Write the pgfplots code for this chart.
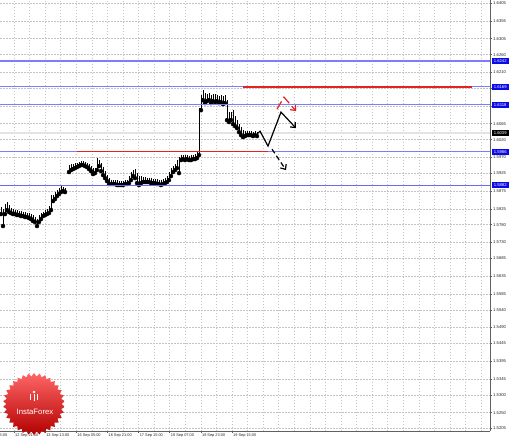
\documentclass[border=0pt]{standalone}
\usepackage{pgfplots}
\pgfplotsset{compat=1.18}
\usepackage{pgfplotstable}
\usepackage{fontspec}
\setmainfont{Liberation Sans}
\usetikzlibrary{shapes.geometric,arrows.meta}

\definecolor{lvl}{HTML}{7C7CFF}
\definecolor{lvldark}{HTML}{6A6AF0}
\definecolor{lvlred}{HTML}{E42222}
\definecolor{boxblue}{HTML}{0A0AE8}
\definecolor{gridc}{HTML}{C4C4C4}
\definecolor{framec}{HTML}{606060}

\tikzset{pricebox/.style={text=white, font=\fontsize{4.2}{4.2}\selectfont, anchor=west,
        inner sep=0pt, minimum height=6bp, minimum width=17bp, xshift=1.5bp}}

% hourly bars: x (chart position), low, high
\pgfplotstableread{
x lo hi
1 1.58100 1.58298
3 1.57762 1.58241
5 1.58100 1.58382
7 1.58213 1.58439
9 1.58157 1.58354
11 1.58128 1.58269
13 1.58100 1.58241
15 1.58100 1.58213
17 1.58072 1.58213
19 1.58072 1.58185
21 1.58044 1.58185
23 1.58044 1.58157
25 1.58016 1.58157
27 1.58016 1.58128
29 1.57987 1.58128
31 1.57959 1.58100
33 1.57903 1.58072
35 1.57875 1.58016
37 1.57762 1.57959
39 1.57875 1.58072
41 1.57959 1.58128
43 1.58044 1.58157
45 1.58072 1.58213
47 1.58100 1.58241
49 1.58128 1.58326
51 1.58213 1.58636
53 1.58467 1.58636
55 1.58523 1.58721
57 1.58608 1.58777
59 1.58664 1.58834
61 1.58721 1.58890
63 1.58749 1.58862
65 1.58721 1.58834
69 1.59285 1.59482
71 1.59341 1.59510
73 1.59369 1.59510
75 1.59397 1.59538
77 1.59426 1.59538
79 1.59454 1.59567
81 1.59482 1.59595
83 1.59482 1.59595
85 1.59454 1.59567
87 1.59426 1.59538
89 1.59369 1.59510
91 1.59313 1.59454
93 1.59228 1.59397
95 1.59256 1.59397
97 1.59341 1.59679
99 1.59454 1.59623
101 1.59313 1.59538
103 1.59200 1.59426
105 1.59115 1.59313
107 1.59031 1.59200
109 1.58946 1.59115
111 1.58946 1.59059
113 1.58946 1.59059
115 1.58946 1.59059
117 1.58918 1.59059
119 1.58918 1.59031
121 1.58918 1.59031
123 1.58918 1.59031
125 1.58946 1.59059
127 1.58946 1.59059
129 1.58974 1.59172
131 1.59059 1.59285
133 1.59172 1.59341
135 1.59115 1.59369
137 1.58974 1.59256
139 1.58918 1.59172
141 1.58974 1.59172
143 1.59003 1.59144
145 1.59003 1.59144
147 1.59003 1.59115
149 1.59003 1.59115
151 1.58974 1.59115
153 1.58974 1.59087
155 1.58974 1.59087
157 1.58946 1.59087
159 1.58946 1.59059
161 1.58918 1.59059
163 1.58946 1.59087
165 1.58974 1.59115
167 1.59003 1.59172
169 1.59059 1.59285
171 1.59172 1.59397
173 1.59285 1.59454
175 1.59341 1.59510
177 1.59397 1.59623
179 1.59256 1.59708
181 1.59623 1.59764
183 1.59651 1.59764
185 1.59623 1.59764
187 1.59651 1.59764
189 1.59623 1.59736
191 1.59623 1.59764
193 1.59651 1.59764
195 1.59651 1.59792
197 1.59679 1.59849
199 1.59764 1.61089
201 1.61033 1.61456
203 1.61315 1.61597
205 1.61230 1.61512
207 1.61287 1.61484
209 1.61315 1.61512
211 1.61230 1.61456
213 1.61287 1.61484
215 1.61259 1.61484
217 1.61287 1.61456
219 1.61230 1.61428
221 1.61259 1.61456
223 1.61202 1.61428
225 1.61230 1.61456
227 1.60751 1.61315
229 1.60695 1.60977
231 1.60751 1.60977
233 1.60638 1.61033
235 1.60582 1.60864
237 1.60525 1.60751
239 1.60413 1.60638
241 1.60328 1.60554
243 1.60272 1.60469
245 1.60300 1.60441
247 1.60328 1.60441
249 1.60328 1.60441
251 1.60328 1.60441
253 1.60300 1.60413
255 1.60328 1.60441
257 1.60300 1.60413
}\bars

\begin{document}
\begin{tikzpicture}
\begin{axis}[
  width=490bp, height=431bp, scale only axis,
  xmin=0, xmax=490, ymin=1.5198, ymax=1.6414,
  clip mode=individual,
  axis x line=bottom, axis y line=right,
  axis line style={-, draw=framec, line width=0.8bp},
  tick align=outside, major tick length=2bp, minor tick length=0pt,
  tick style={draw=framec, line width=0.5bp},
  xtick={14,45.1,76.3,107.4,138.6,169.7,200.9,232},
  xticklabels={12 Sep 21:00,13 Sep 13:00,16 Sep 05:00,16 Sep 21:00,17 Sep 15:00,18 Sep 07:00,18 Sep 23:00,19 Sep 15:00},
  minor xtick={29.6,60.7,91.9,123,154.2,185.3,216.5,247.6,263.1,278.7,294.3,309.9,325.4,341,356.6,372.2,387.7,403.3,418.9,434.5,450,465.6,481.1},
  ytick={1.6405,1.6355,1.6305,1.6260,1.6210,1.6165,1.6115,1.6065,1.6020,1.5970,1.5925,1.5875,1.5825,1.5780,1.5730,1.5685,1.5635,1.5585,1.5540,1.5490,1.5445,1.5395,1.5345,1.5300,1.5250,1.5205},
  yticklabels={1.6405,1.6355,1.6305,1.6260,1.6210,1.6165,1.6115,1.6065,1.6020,1.5970,1.5925,1.5875,1.5825,1.5780,1.5730,1.5685,1.5635,1.5585,1.5540,1.5490,1.5445,1.5395,1.5345,1.5300,1.5250,1.5205},
  xmajorgrids, xminorgrids, ymajorgrids,
  grid style={draw=gridc, line width=0.5bp, dash pattern=on 1.5bp off 1.5bp},
  minor grid style={draw=gridc, line width=0.5bp, dash pattern=on 1.5bp off 1.5bp},
  xticklabel style={font=\fontsize{3.9}{4}\selectfont, anchor=north west, inner sep=1bp, text=black!85},
  yticklabel style={font=\fontsize{4.2}{4.2}\selectfont, anchor=west, inner sep=1bp, text=black!85},
]
% bid line
\addplot[color=gray!22, mark=none, line width=1.6bp] coordinates {(0,1.6039) (490,1.6039)};
% price bars
\addplot[only marks, mark=none,
  error bars/.cd, y dir=plus, y explicit, error mark=none,
  error bar style={draw=black, line width=0.55bp, solid}]
  table[x=x, y=lo, y error expr=\thisrow{hi}-\thisrow{lo}] {\bars};
% levels
\addplot[color=lvl, mark=none, line width=1.1bp] coordinates {(0,1.6242) (490,1.6242)};
\addplot[color=lvl, mark=none, line width=1.1bp] coordinates {(0,1.6169) (490,1.6169)};
\addplot[color=lvl, mark=none, line width=1.1bp] coordinates {(0,1.6118) (490,1.6118)};
\addplot[color=lvl, mark=none, line width=1.1bp] coordinates {(0,1.5986) (490,1.5986)};
\addplot[color=lvldark, mark=none, line width=1.1bp] coordinates {(0,1.5891) (490,1.5891)};
\addplot[color=lvlred, mark=none, line width=1.4bp] coordinates {(243,1.6169) (472,1.6169)};
\addplot[color=lvlred, mark=none, line width=1.4bp] coordinates {(77,1.5986) (268,1.5986)};
% forecast
\addplot[color=black, mark=none, line width=1.2bp, -{Straight Barb[length=4bp,width=7bp]}]
  coordinates {(256,1.60328) (260,1.60441) (268,1.60018) (281,1.60977) (296,1.60525)};
\addplot[color=black, mark=none, line width=1.2bp, dash pattern=on 5bp off 3bp, -{Straight Barb[length=4bp,width=7bp]}]
  coordinates {(272,1.59933) (286,1.59341)};
\addplot[color=lvlred, mark=none, line width=1.2bp, dash pattern=on 9bp off 4bp, -{Straight Barb[length=4bp,width=7bp]}]
  coordinates {(277,1.61061) (284,1.61400) (296,1.61005)};
% price boxes on the scale
\node[pricebox, fill=boxblue] at (axis cs:490,1.6242) {1.6242};
\node[pricebox, fill=boxblue] at (axis cs:490,1.6169) {1.6169};
\node[pricebox, fill=boxblue] at (axis cs:490,1.6118) {1.6118};
\node[pricebox, fill=black] at (axis cs:490,1.6039) {1.6039};
\node[pricebox, fill=boxblue] at (axis cs:490,1.5986) {1.5986};
\node[pricebox, fill=boxblue] at (axis cs:490,1.5891) {1.5882};
\end{axis}
\node[font=\fontsize{3.9}{4}\selectfont, anchor=north west, inner sep=1bp, text=black!85]
  at (-17.1bp,-2bp) {12 Sep 05:00};
% logo
\node[star, star points=34, star point ratio=1.12, minimum size=62bp, inner sep=0pt,
      top color=red!60!white, bottom color=red!70!black, draw=none]
  at (34bp,27bp) {};
\fill[white] (34bp,39bp) circle (1.3bp);
\draw[white, line width=1bp] (30.5bp,37bp) -- (30.5bp,31bp) (37.5bp,37bp) -- (37.5bp,31bp) (34bp,37bp) -- (34bp,30bp);
\node[text=white, font=\fontsize{7.8}{8}\selectfont] at (35bp,19bp) {InstaForex};
\pgfresetboundingbox
\useasboundingbox (0,-9bp) rectangle (510bp,431bp);
\end{tikzpicture}
\end{document}
